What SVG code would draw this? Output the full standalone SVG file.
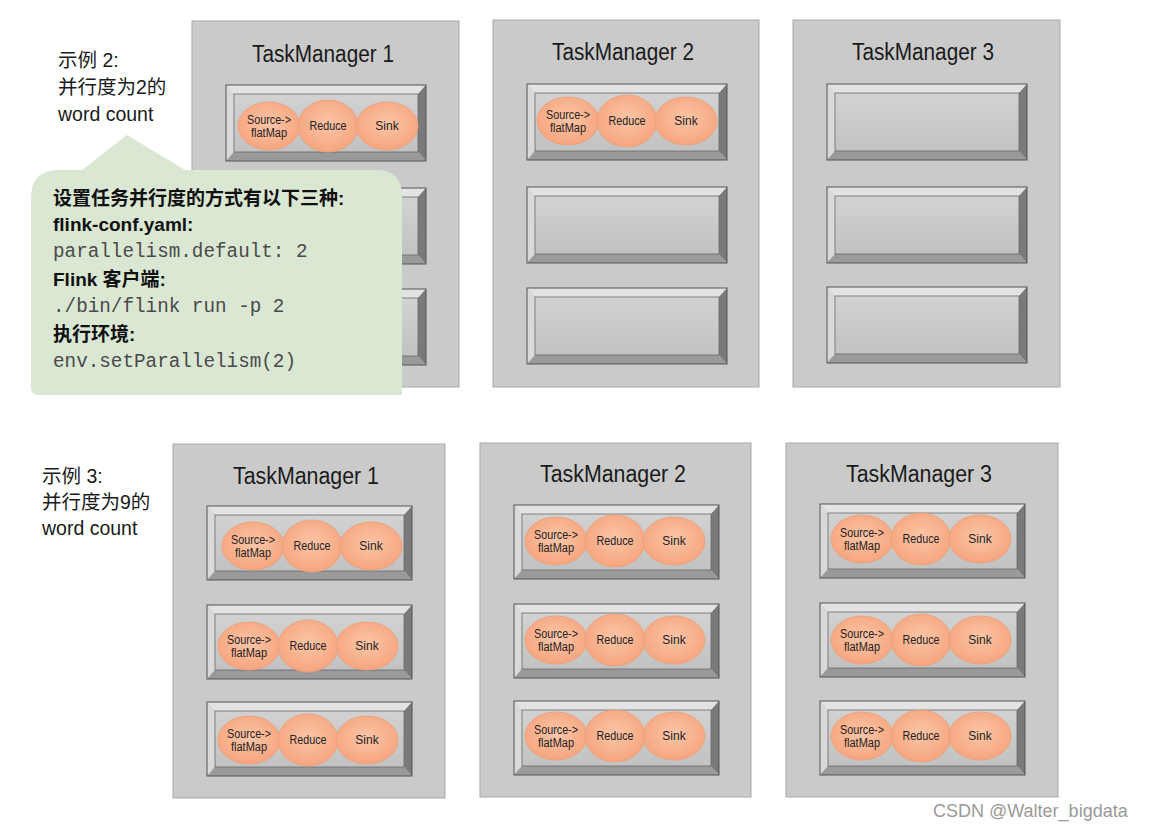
<svg xmlns="http://www.w3.org/2000/svg" xmlns:xlink="http://www.w3.org/1999/xlink" width="1149" height="830" viewBox="0 0 1149 830">
<style>
.tm{fill:#cacaca;stroke:#a8a8a8;stroke-width:1}
.title{font-family:"Liberation Sans","Noto Sans CJK SC",sans-serif;font-size:23px;fill:#1a1a1a;text-anchor:middle}
.lbl{font-family:"Liberation Sans","Noto Sans CJK SC",sans-serif;font-size:19.5px;fill:#1a1a1a}
.op{font-family:"Liberation Sans",sans-serif;font-size:12px;fill:#222;text-anchor:middle}
.bold{font-family:"Liberation Sans","Noto Sans CJK SC",sans-serif;font-size:19px;font-weight:bold;fill:#111}
.mono{font-family:"Liberation Mono",monospace;font-size:19.3px;fill:#4a4a4a}
.ell{fill:url(#eg);stroke:#e8a07a;stroke-width:0.8}
.wm{font-family:"Liberation Sans",sans-serif;font-size:18px;fill:#9a9a9a}
</style>
<defs>
<radialGradient id="eg" cx="50%" cy="45%" r="55%">
<stop offset="0" stop-color="#fbc6a8"/>
<stop offset="1" stop-color="#f6a57e"/>
</radialGradient>
<linearGradient id="ig" x1="0" y1="0" x2="0" y2="1">
<stop offset="0" stop-color="#d2d2d2"/>
<stop offset="1" stop-color="#c2c2c2"/>
</linearGradient>
<g id="slotA">
<rect x="0" y="0" width="200" height="76" fill="#c4c4c4"/>
<polygon points="0,0 200,0 192,9 8,9" fill="#e3e3e3"/>
<polygon points="0,0 8,9 8,67 0,76" fill="#d9d9d9"/>
<polygon points="200,0 200,76 192,67 192,9" fill="#7a7a7a"/>
<polygon points="0,76 8,67 192,67 200,76" fill="#9a9a9a"/>
<rect x="8" y="9" width="184" height="58" fill="url(#ig)" stroke="#6a6a6a" stroke-width="0.8"/>
<rect x="0" y="0" width="200" height="76" fill="none" stroke="#555" stroke-width="1"/>
</g>
<g id="slotB">
<rect x="0" y="0" width="205" height="74" fill="#c4c4c4"/>
<polygon points="0,0 205,0 197,9 8,9" fill="#e3e3e3"/>
<polygon points="0,0 8,9 8,65 0,74" fill="#d9d9d9"/>
<polygon points="205,0 205,74 197,65 197,9" fill="#7a7a7a"/>
<polygon points="0,74 8,65 197,65 205,74" fill="#9a9a9a"/>
<rect x="8" y="9" width="189" height="56" fill="url(#ig)" stroke="#6a6a6a" stroke-width="0.8"/>
<rect x="0" y="0" width="205" height="74" fill="none" stroke="#555" stroke-width="1"/>
</g>
<g id="ops">
<ellipse class="ell" cx="42" cy="39" rx="31" ry="24"/>
<ellipse class="ell" cx="101" cy="39" rx="30" ry="26"/>
<ellipse class="ell" cx="160" cy="39" rx="31" ry="24"/>
<text class="op" x="42" y="37" textLength="44" lengthAdjust="spacingAndGlyphs">Source-&gt;</text>
<text class="op" x="42" y="50" textLength="36" lengthAdjust="spacingAndGlyphs">flatMap</text>
<text class="op" x="101" y="43" textLength="37" lengthAdjust="spacingAndGlyphs">Reduce</text>
<text class="op" x="160" y="43">Sink</text>
</g>
</defs>
<rect width="1149" height="830" fill="#ffffff"/>

<g id="label2">
<text class="lbl" x="58" y="67">示例 2:</text>
<text class="lbl" x="58" y="94">并行度为2的</text>
<text class="lbl" x="58" y="121">word count</text>
</g>

<g id="tm2-1">
<rect class="tm" x="192" y="21" width="267" height="366"/>
<text class="title" x="323" y="62" textLength="142" lengthAdjust="spacingAndGlyphs">TaskManager 1</text>
<use xlink:href="#slotA" x="226" y="85"/>
<use xlink:href="#ops" x="227" y="87"/>
<use xlink:href="#slotA" x="226" y="188"/>
<use xlink:href="#slotA" x="226" y="289"/>
</g>
<g id="tm2-2">
<rect class="tm" x="493" y="20" width="266" height="367"/>
<text class="title" x="623" y="60" textLength="142" lengthAdjust="spacingAndGlyphs">TaskManager 2</text>
<use xlink:href="#slotA" x="527" y="84"/>
<use xlink:href="#ops" x="526" y="82"/>
<use xlink:href="#slotA" x="527" y="187"/>
<use xlink:href="#slotA" x="527" y="288"/>
</g>
<g id="tm2-3">
<rect class="tm" x="793" y="20" width="267" height="367"/>
<text class="title" x="923" y="60" textLength="142" lengthAdjust="spacingAndGlyphs">TaskManager 3</text>
<use xlink:href="#slotA" x="827" y="84"/>
<use xlink:href="#slotA" x="827" y="187"/>
<use xlink:href="#slotA" x="827" y="287"/>
</g>

<g id="bubble">
<path d="M31,387 L31,198 Q31,170 59,170 L82,170 L127,135 L185,170 L376,170 Q402,170 402,196 L402,395 L39,395 Q31,395 31,387 Z" fill="#dae7d3"/>
<text class="bold" x="53" y="205">设置任务并行度的方式有以下三种:</text>
<text class="bold" x="53" y="231">flink-conf.yaml:</text>
<text class="mono" x="53" y="257">parallelism.default: 2</text>
<text class="bold" x="53" y="286">Flink 客户端:</text>
<text class="mono" x="53" y="312">./bin/flink run -p 2</text>
<text class="bold" x="53" y="341">执行环境:</text>
<text class="mono" x="53" y="367">env.setParallelism(2)</text>
</g>

<g id="label3">
<text class="lbl" x="42" y="483">示例 3:</text>
<text class="lbl" x="42" y="509">并行度为9的</text>
<text class="lbl" x="42" y="535">word count</text>
</g>

<g id="tm3-1">
<rect class="tm" x="173" y="444" width="272" height="354"/>
<text class="title" x="306" y="484" textLength="146" lengthAdjust="spacingAndGlyphs">TaskManager 1</text>
<use xlink:href="#slotB" x="207" y="506"/>
<use xlink:href="#ops" x="211" y="507"/>
<use xlink:href="#slotB" x="207" y="605"/>
<use xlink:href="#ops" x="207" y="607"/>
<use xlink:href="#slotB" x="207" y="702"/>
<use xlink:href="#ops" x="207" y="701"/>
</g>
<g id="tm3-2">
<rect class="tm" x="480" y="443" width="271" height="354"/>
<text class="title" x="613" y="482" textLength="146" lengthAdjust="spacingAndGlyphs">TaskManager 2</text>
<use xlink:href="#slotB" x="514" y="505"/>
<use xlink:href="#ops" x="514" y="502"/>
<use xlink:href="#slotB" x="514" y="604"/>
<use xlink:href="#ops" x="514" y="601"/>
<use xlink:href="#slotB" x="514" y="701"/>
<use xlink:href="#ops" x="514" y="697"/>
</g>
<g id="tm3-3">
<rect class="tm" x="786" y="443" width="272" height="354"/>
<text class="title" x="919" y="482" textLength="146" lengthAdjust="spacingAndGlyphs">TaskManager 3</text>
<use xlink:href="#slotB" x="820" y="504"/>
<use xlink:href="#ops" x="820" y="500"/>
<use xlink:href="#slotB" x="820" y="603"/>
<use xlink:href="#ops" x="820" y="601"/>
<use xlink:href="#slotB" x="820" y="701"/>
<use xlink:href="#ops" x="820" y="697"/>
</g>

<g id="connectors"></g>

<text class="wm" x="933" y="817">CSDN @Walter_bigdata</text>
</svg>
